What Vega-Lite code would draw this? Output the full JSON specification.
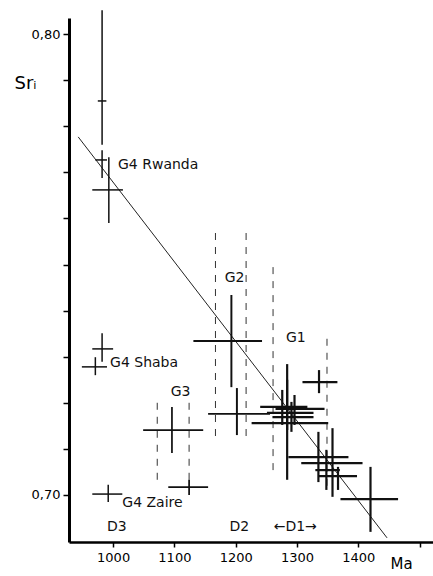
{
  "$schema": "https://vega.github.io/schema/vega-lite/v6.json",
  "width": 364,
  "height": 524,
  "autosize": {"type": "none"},
  "padding": {"left": 69, "top": 18, "right": 0, "bottom": 34},
  "background": "white",
  "config": {"view": {"stroke": null}, "font": "DejaVu Sans"},
  "datasets": {
    "pts": [
      {"id": "A", "grp": "G4", "ma": 982, "sr": 0.7855, "ma_lo": 975, "ma_hi": 989, "sr_lo": 0.776, "sr_hi": 0.8052},
      {"id": "B", "grp": "G4", "ma": 982, "sr": 0.7727, "ma_lo": 971, "ma_hi": 990, "sr_lo": 0.7688, "sr_hi": 0.7748},
      {"id": "C", "grp": "G4", "ma": 993, "sr": 0.7662, "ma_lo": 966, "ma_hi": 1016, "sr_lo": 0.759, "sr_hi": 0.7733},
      {"id": "D", "grp": "G4", "ma": 982, "sr": 0.7317, "ma_lo": 966, "ma_hi": 1000, "sr_lo": 0.7289, "sr_hi": 0.7351},
      {"id": "E", "grp": "G4", "ma": 971, "sr": 0.7278, "ma_lo": 949, "ma_hi": 990, "sr_lo": 0.726, "sr_hi": 0.7299},
      {"id": "F", "grp": "G4", "ma": 992, "sr": 0.7002, "ma_lo": 966, "ma_hi": 1015, "sr_lo": 0.6985, "sr_hi": 0.7022},
      {"id": "G", "grp": "G3", "ma": 1096, "sr": 0.7141, "ma_lo": 1049, "ma_hi": 1147, "sr_lo": 0.7091, "sr_hi": 0.7191},
      {"id": "H", "grp": "G3", "ma": 1124, "sr": 0.7017, "ma_lo": 1090, "ma_hi": 1155, "sr_lo": 0.7, "sr_hi": 0.7033},
      {"id": "I", "grp": "G2", "ma": 1193, "sr": 0.7334, "ma_lo": 1131, "ma_hi": 1243, "sr_lo": 0.7234, "sr_hi": 0.7434},
      {"id": "J", "grp": "G2", "ma": 1202, "sr": 0.7176, "ma_lo": 1155, "ma_hi": 1256, "sr_lo": 0.713, "sr_hi": 0.7232},
      {"id": "K1", "grp": "G1", "ma": 1276, "sr": 0.7191, "ma_lo": 1240, "ma_hi": 1317, "sr_lo": 0.7152, "sr_hi": 0.7228},
      {"id": "K2", "grp": "G1", "ma": 1284, "sr": 0.7178, "ma_lo": 1251, "ma_hi": 1327, "sr_lo": 0.7141, "sr_hi": 0.725},
      {"id": "K3", "grp": "G1", "ma": 1291, "sr": 0.7169, "ma_lo": 1260, "ma_hi": 1327, "sr_lo": 0.7137, "sr_hi": 0.7202},
      {"id": "K4", "grp": "G1", "ma": 1296, "sr": 0.7187, "ma_lo": 1265, "ma_hi": 1345, "sr_lo": 0.7152, "sr_hi": 0.7217},
      {"id": "K5", "grp": "G1", "ma": 1284, "sr": 0.7156, "ma_lo": 1226, "ma_hi": 1351, "sr_lo": 0.7033, "sr_hi": 0.7284},
      {"id": "L", "grp": "G1", "ma": 1336, "sr": 0.7245, "ma_lo": 1309, "ma_hi": 1366, "sr_lo": 0.7221, "sr_hi": 0.7271},
      {"id": "N1", "grp": "G1", "ma": 1335, "sr": 0.7082, "ma_lo": 1286, "ma_hi": 1384, "sr_lo": 0.7028, "sr_hi": 0.7137},
      {"id": "N2", "grp": "G1", "ma": 1358, "sr": 0.7069, "ma_lo": 1307, "ma_hi": 1407, "sr_lo": 0.6996, "sr_hi": 0.7145},
      {"id": "N3", "grp": "G1", "ma": 1348, "sr": 0.7054, "ma_lo": 1330, "ma_hi": 1370, "sr_lo": 0.7011, "sr_hi": 0.7098},
      {"id": "N4", "grp": "G1", "ma": 1367, "sr": 0.7041, "ma_lo": 1335, "ma_hi": 1398, "sr_lo": 0.7011, "sr_hi": 0.7061},
      {"id": "M", "grp": "G1", "ma": 1420, "sr": 0.6991, "ma_lo": 1371, "ma_hi": 1465, "sr_lo": 0.692, "sr_hi": 0.7061}
    ],
    "bounds": [
      {"grp": "G3", "ma": 1072, "sr_lo": 0.7033, "sr_hi": 0.721},
      {"grp": "G3", "ma": 1124, "sr_lo": 0.7033, "sr_hi": 0.721},
      {"grp": "G2", "ma": 1167, "sr_lo": 0.7128, "sr_hi": 0.7579},
      {"grp": "G2", "ma": 1217, "sr_lo": 0.7128, "sr_hi": 0.7579},
      {"grp": "G1", "ma": 1261, "sr_lo": 0.7054, "sr_hi": 0.7503},
      {"grp": "G1", "ma": 1349, "sr_lo": 0.702, "sr_hi": 0.734}
    ],
    "fit": [
      {"ma": 943, "sr": 0.7777},
      {"ma": 1447, "sr": 0.6907}
    ],
    "labels": [
      {"label": "G4 Rwanda", "ma": 1008, "sr": 0.7716},
      {"label": "G4 Shaba", "ma": 995, "sr": 0.7286},
      {"label": "G4 Zaire", "ma": 1015, "sr": 0.6983},
      {"label": "G3", "ma": 1094, "sr": 0.7223},
      {"label": "G2", "ma": 1182, "sr": 0.7471},
      {"label": "G1", "ma": 1282, "sr": 0.734},
      {"label": "D3", "ma": 990, "sr": 0.6931},
      {"label": "D2", "ma": 1190, "sr": 0.6931},
      {"label": "←D1→", "ma": 1262, "sr": 0.6931}
    ]
  },
  "layer": [
    {
      "data": {"name": "bounds"},
      "mark": {"type": "rule", "color": "#333", "strokeWidth": 1, "strokeDash": [7, 7]},
      "encoding": {
        "x": {"field": "ma", "type": "quantitative", "scale": {"domain": [928, 1522], "nice": false, "zero": false},
          "axis": {"values": [1000, 1100, 1200, 1300, 1400, 1500], "labelExpr": "datum.value < 1450 ? datum.label : ''", "format": "d",
            "domainWidth": 2.5, "domainColor": "black", "tickColor": "black", "tickSize": 5, "tickWidth": 1.5,
            "labelFontSize": 13, "labelColor": "black", "labelPadding": 4, "grid": false,
            "title": "Ma", "titleFontSize": 15, "titleFontWeight": "normal", "titleColor": "black",
            "titleX": 332, "titleY": 21, "titleAlign": "center", "titleBaseline": "middle"}},
        "y": {"field": "sr_lo", "type": "quantitative", "scale": {"domain": [0.6898, 0.8035], "nice": false, "zero": false},
          "axis": {"values": [0.70, 0.71, 0.72, 0.73, 0.74, 0.75, 0.76, 0.77, 0.78, 0.79, 0.80],
            "labelExpr": "datum.value == 0.7 ? '0,70' : (datum.value == 0.8 ? '0,80' : '')",
            "domainWidth": 3, "domainColor": "black", "tickColor": "black", "tickSize": 6, "tickWidth": 1.5,
            "labelFontSize": 13, "labelColor": "black", "labelPadding": 3, "grid": false,
            "title": "Srᵢ", "titleFontSize": 18, "titleFontWeight": "normal", "titleColor": "black", "titleAngle": 0,
            "titleX": -55, "titleY": 65, "titleAlign": "left", "titleBaseline": "middle"}},
        "y2": {"field": "sr_hi"}
      }
    },
    {
      "data": {"name": "fit"},
      "mark": {"type": "line", "color": "#222", "strokeWidth": 1, "clip": false},
      "encoding": {
        "x": {"field": "ma", "type": "quantitative"},
        "y": {"field": "sr", "type": "quantitative"}
      }
    },
    {
      "data": {"name": "pts"},
      "mark": {"type": "rule", "color": "#111", "clip": false},
      "encoding": {
        "x": {"field": "ma_lo", "type": "quantitative"},
        "x2": {"field": "ma_hi"},
        "y": {"field": "sr", "type": "quantitative"},
        "strokeWidth": {"field": "grp", "type": "nominal", "scale": {"domain": ["G1", "G2", "G3", "G4"], "range": [2.2, 1.5, 1.5, 1.5]}, "legend": null}
      }
    },
    {
      "data": {"name": "pts"},
      "mark": {"type": "rule", "color": "#111", "clip": false},
      "encoding": {
        "x": {"field": "ma", "type": "quantitative"},
        "y": {"field": "sr_lo", "type": "quantitative"},
        "y2": {"field": "sr_hi"},
        "strokeWidth": {"field": "grp", "type": "nominal", "scale": {"domain": ["G1", "G2", "G3", "G4"], "range": [2.2, 1.5, 1.5, 1.5]}, "legend": null}
      }
    },
    {
      "data": {"name": "labels"},
      "mark": {"type": "text", "align": "left", "baseline": "middle", "fontSize": 14, "color": "#111"},
      "encoding": {
        "x": {"field": "ma", "type": "quantitative"},
        "y": {"field": "sr", "type": "quantitative"},
        "text": {"field": "label"}
      }
    }
  ]
}
